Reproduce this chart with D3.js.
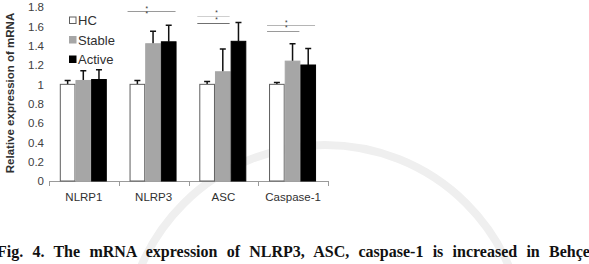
<!DOCTYPE html>
<html lang="en">
<head>
  <meta charset="UTF-8">
  <title>mRNA expression</title>
  <script src="https://d3js.org/d3.v7.min.js"></script>
  <style>
    body { margin: 0; background: #fff; }
    svg { display: block; }
    .tick text { font-family: "Liberation Sans", Arial, sans-serif; font-size: 11.5px; fill: #404040; }
  </style>
</head>
<body>
  <svg id="chart" width="589" height="264"></svg>
  <script>
    // data
    var categories = ["NLRP1", "NLRP3", "ASC", "Caspase-1"];
    var groups = ["HC", "Stable", "Active"];
    var hcMean = [1.0, 1.0, 1.0, 1.0];
    var hcErr = [1.04, 1.04, 1.03, 1.02];
    var stableMean = [1.04, 1.42, 1.13, 1.24];
    var stableErr = [1.14, 1.55, 1.365, 1.42];
    var activeMean = [1.05, 1.44, 1.445, 1.20];
    var activeErr = [1.15, 1.61, 1.64, 1.37];
    var yTicks = [0, 0.2, 0.4, 0.6, 0.8, 1, 1.2, 1.4, 1.6, 1.8];
    // significance brackets (value level) and star marks
    var brackets = [
      { cat: "NLRP3", from: "HC", to: "Active", level: 1.76, tone: "#9a9a9a" },
      { cat: "ASC", from: "HC", to: "Stable", level: 1.705, tone: "#cfcfcf" },
      { cat: "ASC", from: "HC", to: "Stable", level: 1.637, tone: "#707070" },
      { cat: "Caspase-1", from: "HC", to: "Active", level: 1.61, tone: "#b5b5b5" },
      { cat: "Caspase-1", from: "HC", to: "Stable", level: 1.555, tone: "#9a9a9a" }
    ];
    var stars = [
      { cat: "NLRP3", level: 1.78 }, { cat: "NLRP3", level: 1.73 },
      { cat: "ASC", level: 1.745 }, { cat: "ASC", level: 1.675 },
      { cat: "Caspase-1", level: 1.637 }, { cat: "Caspase-1", level: 1.585 }
    ];
    var caption = "Fig. 4. The mRNA expression of NLRP3, ASC, caspase-1 is increased in Behçet's disease";

    var rows = categories.map(function (c, i) {
      return {
        cat: c,
        values: [
          { g: "HC", v: hcMean[i], e: hcErr[i] },
          { g: "Stable", v: stableMean[i], e: stableErr[i] },
          { g: "Active", v: activeMean[i], e: activeErr[i] }
        ]
      };
    });

    var fills = { HC: "#ffffff", Stable: "#a6a6a6", Active: "#000000" };
    var strokes = { HC: "#5e5e5e", Stable: "#a6a6a6", Active: "#000000" };

    var svg = d3.select("#chart");

    // faint watermark ring behind everything
    svg.append("circle")
      .attr("cx", 325).attr("cy", 345).attr("r", 200)
      .attr("fill", "none")
      .attr("stroke", "#efefef")
      .attr("stroke-width", 8);

    var x = d3.scaleBand().domain(categories).range([49, 328]);
    var x1 = d3.scaleBand().domain(groups).range([10.8, 57.8]);
    var y = d3.scaleLinear().domain([0, 1.8]).range([181, 7]);

    // y axis (labels only, no line)
    var yAxis = svg.append("g")
      .attr("transform", "translate(49,0)")
      .call(d3.axisLeft(y).tickValues(yTicks).tickSize(0).tickPadding(5)
        .tickFormat(function (d) { return String(d); }));
    yAxis.select(".domain").remove();

    // x axis baseline with category separators
    svg.append("line")
      .attr("x1", 49).attr("x2", 328)
      .attr("y1", y(0) + 0.5).attr("y2", y(0) + 0.5)
      .attr("stroke", "#9a9a9a");
    svg.selectAll(".sep")
      .data(categories.concat(["end"]))
      .enter().append("line")
      .attr("x1", function (d, i) { return Math.round(49 + i * x.bandwidth()) + 0.5; })
      .attr("x2", function (d, i) { return Math.round(49 + i * x.bandwidth()) + 0.5; })
      .attr("y1", y(0)).attr("y2", y(0) + 5)
      .attr("stroke", "#9a9a9a");
    svg.selectAll(".catlabel")
      .data(categories)
      .enter().append("text")
      .attr("x", function (d) { return x(d) + x.bandwidth() / 2; })
      .attr("y", 201)
      .attr("text-anchor", "middle")
      .style("font-family", "Liberation Sans, Arial, sans-serif")
      .style("font-size", "11.5px")
      .attr("fill", "#303030")
      .text(function (d) { return d; });

    // y title
    svg.append("text")
      .attr("transform", "translate(14,93) rotate(-90)")
      .attr("text-anchor", "middle")
      .style("font-family", "Liberation Sans, Arial, sans-serif")
      .style("font-size", "11.5px")
      .style("font-weight", "bold")
      .attr("fill", "#303030")
      .text("Relative expression of mRNA");

    var grp = svg.selectAll(".grp")
      .data(rows)
      .enter().append("g")
      .attr("transform", function (d) { return "translate(" + x(d.cat) + ",0)"; });

    // error bars (upper only)
    grp.selectAll(".err")
      .data(function (d) { return d.values; })
      .enter().append("path")
      .attr("d", function (d) {
        var cx = x1(d.g) + x1.bandwidth() / 2;
        return "M" + cx + "," + y(d.v) + "V" + y(d.e) + "M" + (cx - 3) + "," + y(d.e) + "H" + (cx + 3);
      })
      .attr("stroke", "#111")
      .attr("stroke-width", 1.5)
      .attr("fill", "none");

    grp.selectAll("rect")
      .data(function (d) { return d.values; })
      .enter().append("rect")
      .attr("x", function (d) { return x1(d.g) + 0.5; })
      .attr("width", x1.bandwidth() - 1)
      .attr("y", function (d) { return y(d.v); })
      .attr("height", function (d) { return y(0) - y(d.v); })
      .attr("fill", function (d) { return fills[d.g]; })
      .attr("stroke", function (d) { return strokes[d.g]; })
      .attr("stroke-width", 1);

    // significance marks
    svg.selectAll(".br")
      .data(brackets)
      .enter().append("line")
      .attr("x1", function (d) { return x(d.cat) + x1(d.from) - 2; })
      .attr("x2", function (d) { return x(d.cat) + x1(d.to) + x1.bandwidth() - 1; })
      .attr("y1", function (d) { return Math.round(y(d.level)) + 0.5; })
      .attr("y2", function (d) { return Math.round(y(d.level)) + 0.5; })
      .attr("stroke", function (d) { return d.tone; })
      .attr("stroke-width", 1);
    svg.selectAll(".star")
      .data(stars)
      .enter().append("text")
      .attr("x", function (d) { return x(d.cat) + x1("Stable") + 1.5; })
      .attr("y", function (d) { return y(d.level) + 2.5; })
      .attr("text-anchor", "middle")
      .style("font-family", "Liberation Sans, Arial, sans-serif")
      .style("font-size", "6.5px")
      .attr("fill", "#333")
      .text("*");

    // legend
    var leg = svg.selectAll(".leg")
      .data(groups)
      .enter().append("g")
      .attr("transform", function (d, i) { return "translate(69," + (16.5 + i * 19.5) + ")"; });
    leg.append("rect")
      .attr("x", 0.5).attr("y", 0.5)
      .attr("width", 6.5).attr("height", 6.5)
      .attr("fill", function (d) { return fills[d]; })
      .attr("stroke", function (d) { return strokes[d]; });
    leg.append("text")
      .attr("x", 9).attr("y", 8.5)
      .style("font-family", "Liberation Sans, Arial, sans-serif")
      .style("font-size", "13px")
      .attr("fill", "#303030")
      .text(function (d) { return d; });

    // caption, spaced so that it runs off the right edge like the page
    var cap = svg.append("text")
      .attr("x", -3).attr("y", 257)
      .style("font-family", "Liberation Serif, Times New Roman, serif")
      .style("font-size", "16px")
      .style("font-weight", "bold")
      .attr("fill", "#111")
      .text(caption);
    var bIdx = caption.indexOf("Beh");
    var nSpaces = caption.slice(0, bIdx).split(" ").length - 1;
    var pos0 = cap.node().getStartPositionOfChar(bIdx).x;
    cap.style("word-spacing", ((549 - pos0) / nSpaces) + "px");
  </script>
</body>
</html>
